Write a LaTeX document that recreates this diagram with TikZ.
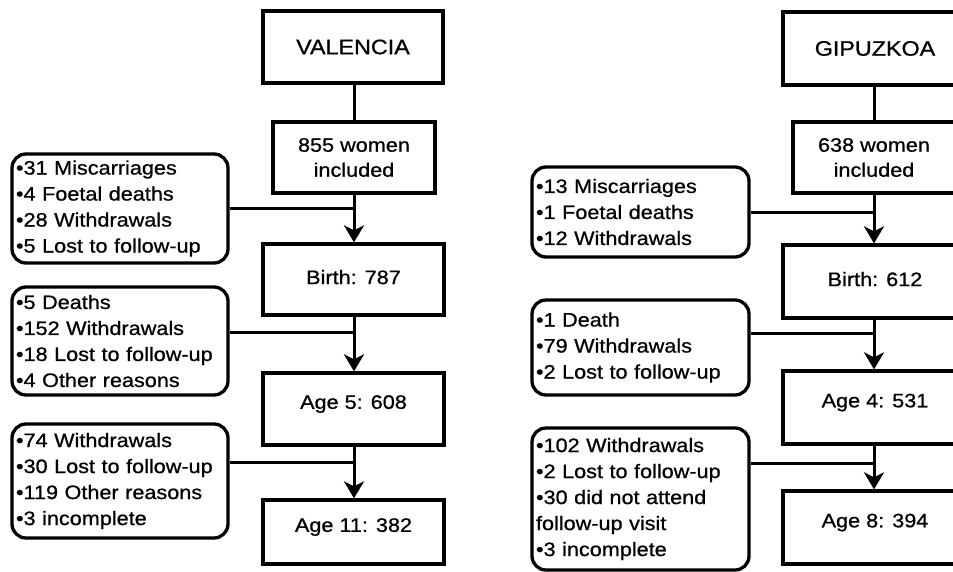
\documentclass[tikz,border=0pt]{standalone}
\usepackage{fontspec}
\setmainfont{Liberation Sans}[FakeStretch=1.11,FakeBold=0.8]
\usetikzlibrary{arrows.meta,calc}
\begin{document}
\begin{tikzpicture}[x=1pt,y=-1pt]
\tikzset{
  sq/.style={draw, line width=3.3pt, align=center, inner sep=2pt, font=\fontsize{19.5}{25}\selectfont},
  ttl/.style={sq, font=\fontsize{21}{24}\selectfont},
  agebox/.style={sq, text depth=14pt},
  rbox/.style={draw, line width=3.3pt, rounded corners=14pt, align=left, inner xsep=4pt, inner ysep=0pt, text width=208pt, font=\fontsize{19.5}{26}\selectfont},
  conn/.style={line width=3pt},
  arr/.style={conn, -{Stealth[length=17pt,width=20pt,inset=5pt]}}
}
\useasboundingbox (0,0) rectangle (953,571);
\clip (0,0) rectangle (953,571);
\fill[white] (0,0) rectangle (953,571);

% ---------------- VALENCIA ----------------
\node[ttl, minimum width=180pt, minimum height=72pt] (val) at (353,47) {VALENCIA};
\node[sq, minimum width=162pt, minimum height=71pt] (v855) at (354,157.5) {855 women\\included};
\node[sq, minimum width=181pt, minimum height=71pt, text depth=5pt] (vbirth) at (353.5,279.5) {Birth: 787};
\node[agebox, minimum width=181pt, minimum height=72pt] (vage5) at (353.5,409) {Age 5: 608};
\node[agebox, minimum width=181pt, minimum height=64pt] (vage11) at (353.5,532) {Age 11: 382};

\node[rbox, minimum height=109pt] (vl1) at (120,208.5) {\textbullet31 Miscarriages\\\textbullet4 Foetal deaths\\\textbullet28 Withdrawals\\\textbullet5 Lost to follow-up};
\node[rbox, minimum height=108pt] (vl2) at (120,341) {\textbullet5 Deaths\\\textbullet152 Withdrawals\\\textbullet18 Lost to follow-up\\\textbullet4 Other reasons};
\node[rbox, minimum height=114pt] (vl3) at (120,481) {\textbullet74 Withdrawals\\\textbullet30 Lost to follow-up\\\textbullet119 Other reasons\\\textbullet3 incomplete};

\draw[conn] (val.south -| v855) -- (v855.north);
\draw[arr] (v855.south) -- (vbirth.north -| v855.south);
\draw[arr] (vbirth.south -| v855.south) -- (vage5.north -| v855.south);
\draw[arr] (vage5.south -| v855.south) -- (vage11.north -| v855.south);
\draw[conn] (vl1.east) -- (vl1.east -| v855.south);
\draw[conn] ([yshift=9pt]vl2.east) -- ([yshift=9pt]vl2.east -| v855.south);
\draw[conn] ([yshift=19pt]vl3.east) -- ([yshift=19pt]vl3.east -| v855.south);

% ---------------- GIPUZKOA ----------------
\node[ttl, minimum width=184pt, minimum height=73pt] (gip) at (875,48.5) {GIPUZKOA};
\node[sq, minimum width=162pt, minimum height=71pt] (g638) at (874,157.5) {638 women\\included};
\node[sq, minimum width=184pt, minimum height=73pt, text depth=5pt] (gbirth) at (875,281.5) {Birth: 612};
\node[agebox, minimum width=184pt, minimum height=73pt] (gage4) at (875,407.5) {Age 4: 531};
\node[agebox, minimum width=184pt, minimum height=73pt] (gage8) at (875,527.5) {Age 8: 394};

\node[rbox, text width=209pt, minimum height=90pt] (gl1) at (640.5,212) {\textbullet13 Miscarriages\\\textbullet1 Foetal deaths\\\textbullet12 Withdrawals};
\node[rbox, text width=209pt, minimum height=95pt] (gl2) at (640.5,347.5) {\textbullet1 Death\\\textbullet79 Withdrawals\\\textbullet2 Lost to follow-up};
\node[rbox, text width=209pt, minimum height=142pt] (gl3) at (640.5,499) {\textbullet102 Withdrawals\\\textbullet2 Lost to follow-up\\\textbullet30 did not attend\\follow-up visit\\\textbullet3 incomplete};

\draw[conn] (gip.south -| g638) -- (g638.north);
\draw[arr] (g638.south) -- (gbirth.north -| g638.south);
\draw[arr] (gbirth.south -| g638.south) -- (gage4.north -| g638.south);
\draw[arr] (gage4.south -| g638.south) -- (gage8.north -| g638.south);
\draw[conn] (gl1.east) -- (gl1.east -| g638.south);
\draw[conn] ([yshift=14.5pt]gl2.east) -- ([yshift=14.5pt]gl2.east -| g638.south);
\draw[conn] ([yshift=36pt]gl3.east) -- ([yshift=36pt]gl3.east -| g638.south);
\end{tikzpicture}
\end{document}
